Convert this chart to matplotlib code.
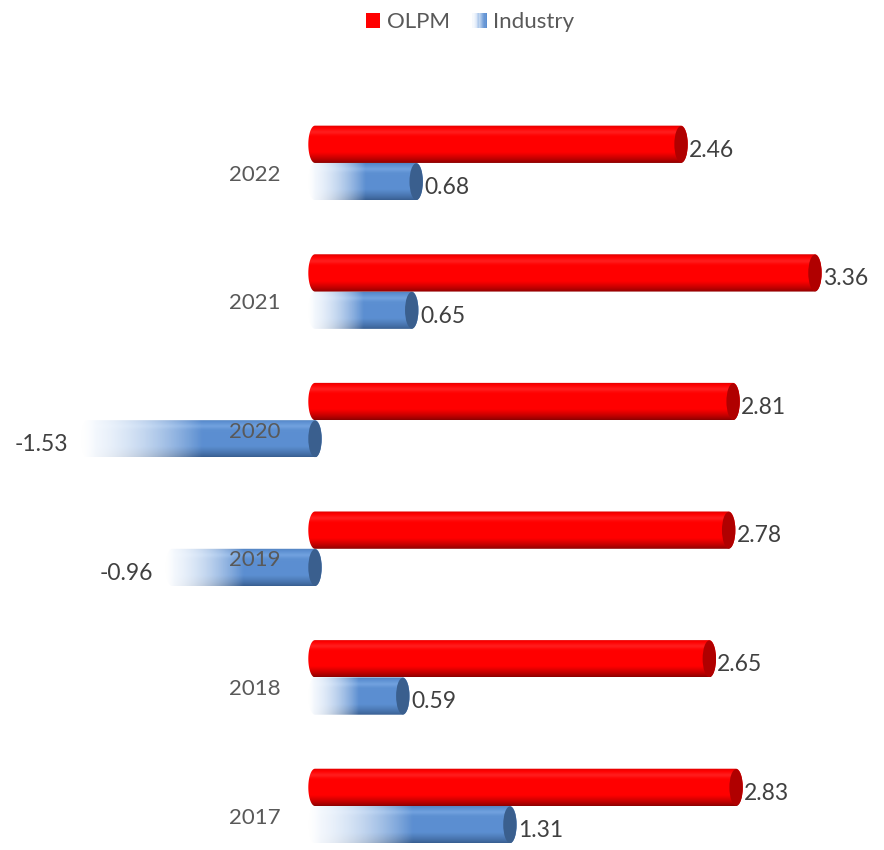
import numpy as np
import matplotlib
matplotlib.use('Agg')
import matplotlib.pyplot as plt
from matplotlib.path import Path
from matplotlib.patches import PathPatch, Ellipse, Rectangle
from matplotlib.legend_handler import HandlerBase

years = ['2017', '2018', '2019', '2020', '2021', '2022']
olpm = [2.83, 2.65, 2.78, 2.81, 3.36, 2.46]
industry = [1.31, 0.59, -0.96, -1.53, 0.65, 0.68]

plt.rcParams['font.family'] = ['Lato', 'DejaVu Sans']
cat_col = '#595959'
val_col = '#404040'
red = np.array([1.0, 0.0, 0.0])
red_dark = np.array([0.55, 0.0, 0.0])
red_hi = np.array([1.0, 0.22, 0.22])
blue = np.array([0.36, 0.56, 0.82])
blue_dark = np.array([0.22, 0.37, 0.57])
blue_hi = np.array([0.52, 0.70, 0.92])
light = np.array([0.93, 0.96, 1.0])

fig = plt.figure(figsize=(8.84, 8.5), dpi=100)
ax = fig.add_axes([0, 0, 1, 1])
ax.set_xlim(-2.117, 3.824)
ax.set_ylim(-0.342, 6.267)
ax.axis('off')

bar_h = 0.29
rx = 0.045


def shade(base, dark, hi, ny):
    t = np.linspace(0, 1, ny)[:, None]
    low = np.clip(t / 0.28, 0, 1) ** 0.8
    col = dark * (1 - low) + base * low
    g = np.exp(-((t - 0.82) / 0.07) ** 2) * 0.5
    col = col * (1 - g) + hi * g
    top = np.clip((t - 0.93) / 0.07, 0, 1) * 0.3
    col = col * (1 - top) + dark * top
    return col


def cylinder(v, yc, base, dark, hi, cap, fade):
    x0, x1 = min(0, v), max(0, v)
    y0, y1 = yc - bar_h / 2, yc + bar_h / 2
    th1 = np.linspace(np.pi / 2, 3 * np.pi / 2, 40)
    th2 = np.linspace(-np.pi / 2, np.pi / 2, 40)
    pts = np.concatenate([
        np.c_[x0 + rx * np.cos(th1), yc + bar_h / 2 * np.sin(th1)],
        np.c_[x1 + rx * np.cos(th2), yc + bar_h / 2 * np.sin(th2)],
    ])
    pts = np.vstack([pts, pts[:1]])
    clip = PathPatch(Path(pts, closed=True), transform=ax.transData,
                     facecolor='none', edgecolor='none')
    ax.add_patch(clip)
    ny, nx = 60, 400
    col = shade(base, dark, hi, ny)[:, None, :] * np.ones((1, nx, 1))
    alpha = np.ones((ny, nx))
    if fade:
        s = np.linspace(0, 1, nx)
        w = np.clip(s / 0.5, 0, 1)
        col = light * (1 - w[None, :, None]) + col * w[None, :, None]
        alpha = alpha * (np.clip(s / 0.06, 0, 1) * (0.25 + 0.75 * w))[None, :]
    img = np.dstack([col, alpha])
    im = ax.imshow(img, extent=[x0 - rx, x1 + rx, y0, y1], origin='lower',
                   aspect='auto', interpolation='bilinear', zorder=2)
    im.set_clip_path(clip)
    ax.add_patch(Ellipse((x1, yc), 2 * rx, bar_h * 0.98, facecolor=cap,
                         edgecolor='none', zorder=3))


for i, y in enumerate(years):
    # industry below, OLPM above
    cylinder(industry[i], i - 0.145, blue, blue_dark, blue_hi, '#3A5F8E', True)
    cylinder(olpm[i], i + 0.145, red, red_dark, red_hi, '#B00000', False)

    ax.text(-0.23, i - 0.09, y, ha='right', va='center', fontsize=16,
            color=cat_col, zorder=5)
    ax.text(olpm[i] + 0.052, i + 0.10, f'{olpm[i]:.2f}', ha='left',
            va='center', fontsize=16.5, color=val_col, zorder=5)
    v = industry[i]
    if v >= 0:
        ax.text(v + 0.055, i - 0.19, f'{v:.2f}', ha='left', va='center',
                fontsize=16.5, color=val_col, zorder=5)
    else:
        ax.text(v - 0.13, i - 0.19, f'{v:.2f}', ha='right', va='center',
                fontsize=16.5, color=val_col, zorder=5)


class GradHandler(HandlerBase):
    def create_artists(self, legend, orig, xd, yd, w, h, fontsize, trans):
        n = 12
        out = []
        for k in range(n):
            a = (k + 1) / n
            c = light * (1 - a) + blue * a
            out.append(Rectangle((-xd + w * k / n, -yd), w / n + 0.3, h,
                                 facecolor=c, alpha=min(1, 0.2 + a),
                                 lw=0, transform=trans))
        return out


h_red = Rectangle((0, 0), 1, 1, facecolor='#FF0000', lw=0)
h_blue = Rectangle((0, 0), 1, 1, facecolor=blue)
leg = ax.legend([h_red, h_blue], ['OLPM', 'Industry'], ncol=2, frameon=False,
                loc='center', bbox_to_anchor=(0.532, 1 - 22 / 850),
                fontsize=16, handlelength=0.65, handleheight=0.65,
                handletextpad=0.3, columnspacing=1.0,
                handler_map={h_blue: GradHandler()})
for t in leg.get_texts():
    t.set_color(cat_col)

fig.savefig('out.png', dpi=100)
